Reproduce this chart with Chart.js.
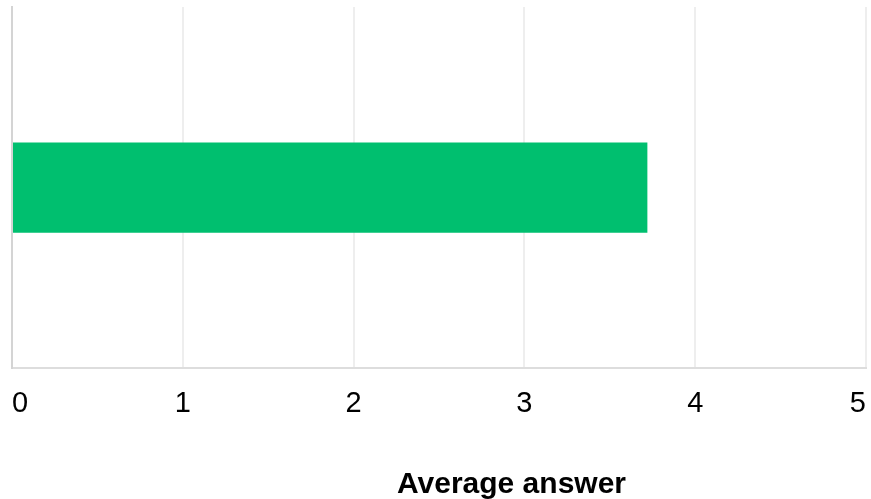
<!DOCTYPE html>
<html>
<head>
<meta charset="utf-8">
<script src="https://cdn.jsdelivr.net/npm/chart.js@4.4.1/dist/chart.umd.min.js"></script>
<style>
  html, body { margin: 0; padding: 0; background: #fff; }
  #wrap { width: 871px; height: 499px; }
</style>
</head>
<body>
<div id="wrap"><canvas id="barChart"></canvas></div>
<script>
// data
const categories = [''];
const averages = [3.72];
const tickLabels = ['0', '1', '2', '3', '4', '5'];
const axisTitle = 'Average answer';

// axis title sits right of the plot centre in the original, so draw it ourselves
const bottomTitle = {
  id: 'bottomTitle',
  afterDraw(chart) {
    const ctx = chart.ctx;
    ctx.save();
    ctx.font = 'bold 30px "Liberation Sans", Arial, sans-serif';
    ctx.fillStyle = '#000';
    ctx.textAlign = 'center';
    ctx.textBaseline = 'alphabetic';
    ctx.fillText(axisTitle, 511.5, 493);
    ctx.restore();
  }
};

const ctxBar = document.getElementById('barChart').getContext('2d');

const barChart = new Chart(ctxBar, {
  type: 'bar',
  data: {
    labels: categories,
    datasets: [
      {
        label: 'Average',
        data: averages,
        backgroundColor: '#00bf6f',
        barPercentage: 0.25,
        categoryPercentage: 1
      }
    ]
  },
  plugins: [bottomTitle],
  options: {
    indexAxis: 'y',
    responsive: true,
    maintainAspectRatio: false,
    animation: false,
    layout: {
      padding: { left: 12, right: 5, top: 7, bottom: 75 }
    },
    plugins: {
      legend: { display: false },
      tooltip: { enabled: false }
    },
    scales: {
      x: {
        min: 0,
        max: 5,
        ticks: {
          stepSize: 1,
          align: 'inner',
          padding: 3,
          color: '#000',
          font: { family: '"Liberation Sans", Arial, sans-serif', size: 29 },
          callback: (value, i) => tickLabels[i]
        },
        grid: {
          color: '#eeeeee',
          lineWidth: 2,
          drawTicks: true,
          tickLength: 15,
          tickColor: 'rgba(0,0,0,0)'
        },
        border: { color: '#dddddd', width: 2 }
      },
      y: {
        ticks: { display: false },
        grid: { display: false, drawTicks: false },
        border: { color: '#d4d4d4', width: 2 }
      }
    }
  }
});
</script>
</body>
</html>
